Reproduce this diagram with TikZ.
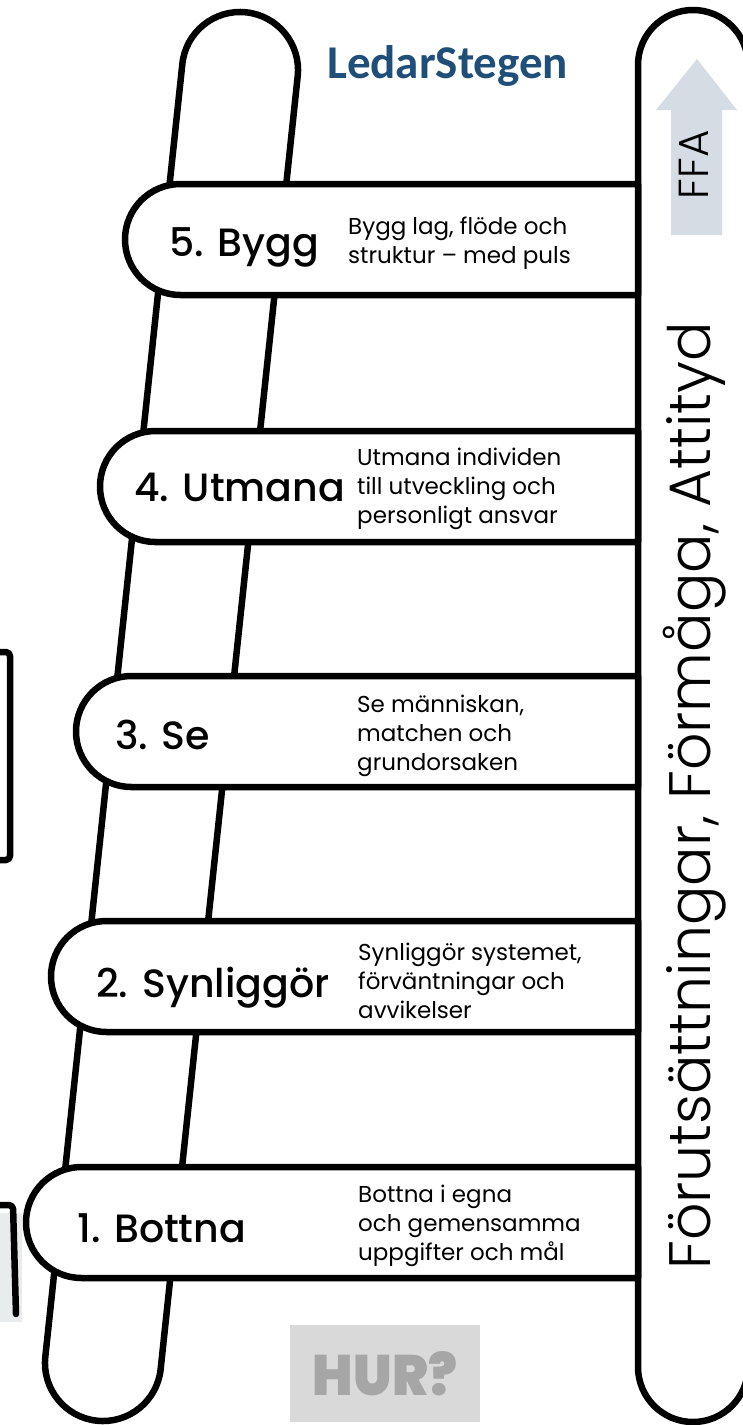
\documentclass[tikz,border=0pt]{standalone}
\usepackage{fontspec}
\setmainfont{Poppins}
\newfontfamily\titlefont{Poppins}[UprightFont={* Medium}]
\newfontfamily\thinfont{Poppins}[UprightFont={* Light}]
\newfontfamily\heavyfont{Poppins}[UprightFont={* Black}]
\newfontfamily\headfont{Carlito}

\definecolor{headblue}{HTML}{1F4E79}
\definecolor{arrowgrey}{HTML}{D6DCE4}
\definecolor{hurbox}{HTML}{D9D9D9}
\definecolor{hurtext}{HTML}{A6A6A6}
\definecolor{sidegrey}{HTML}{E8ECEC}

\begin{document}
\begin{tikzpicture}[x=1pt, y=-1pt, line join=round,
  outline/.style={draw=black, line width=6.5pt, fill=white},
  frame/.style={draw=black, line width=6.5pt, rounded corners=4pt},
  title/.style={font=\titlefont\fontsize{39.5}{40}\selectfont, inner sep=0pt, anchor=base west},
  % anchor sits on the baseline of the last line
  desc/.style={font=\fontsize{23}{29}\selectfont, inner sep=0pt, anchor=base west, align=left},
  sidetext/.style={font=\thinfont#1, rotate=90, anchor=base, inner sep=0pt},
]
\path[use as bounding box, clip] (0,0) rectangle (743,1425);

% frames cut off at the left edge
\draw[frame] (-20,652) -- (10,652) -- (10,860) -- (-20,860);
\fill[sidegrey] (-5,1213) rectangle (22,1322);
\draw[frame, line cap=round] (-20,1205) -- (13,1205) -- (16,1314);

% slanted left rail of the ladder
\draw[outline] (45.3,1356.9) arc[start angle=186.05, end angle=6.05, radius=58]
  -- (297.7,76.1) arc[start angle=6.05, end angle=-173.95, radius=58] -- cycle;

% upright right rail
\draw[outline] (638,1367) -- (638,65) arc[start angle=180, end angle=360, radius=55]
  -- (748,1367) arc[start angle=0, end angle=180, radius=55] -- cycle;

% upward arrow with FFA
\fill[arrowgrey] (671,235) -- (671,110) -- (656,110) -- (697,59) -- (737,110)
  -- (722,110) -- (722,235) -- cycle;
\node[sidetext=\fontsize{42}{42}\selectfont] (ffa) at (708,165) {FFA};
\node[sidetext=\fontsize{58.5}{60}\selectfont] (ffalong) at (710,796)
  {Förutsättningar, Förmåga, Attityd};

% rungs: left x, top y
\foreach \l/\t in {125/184, 100/431, 76/676, 51/921, 26/1167}{
  \draw[outline] (638,\t) -- ({\l+55.5},\t) arc[start angle=270, end angle=90, radius=55.5]
    -- (638,{\t+111}) -- cycle;
}

% rung titles
\node[title] (t5) at (169,256) {5. Bygg};
\node[title] (t4) at (134,501) {4. Utmana};
\node[title] (t3) at (115,749) {3. Se};
\node[title] (t2) at (96,997) {2. Synliggör};
\node[title] (t1) at (77,1242) {1. Bottna};

% rung descriptions
\node[desc] (d5) at (348,263) {Bygg lag, flöde och\\struktur – med puls};
\node[desc] (d4) at (357,523) {Utmana individen\\till utveckling och\\personligt ansvar};
\node[desc] (d3) at (357,770) {Se människan,\\matchen och\\grundorsaken};
\node[desc] (d2) at (358,1018) {Synliggör systemet,\\förväntningar och\\avvikelser};
\node[desc] (d1) at (358,1260) {Bottna i egna\\och gemensamma\\uppgifter och mål};

% heading
\node[font=\headfont\bfseries\fontsize{47}{47}\selectfont, text=headblue,
  anchor=base west, inner sep=0pt] (head) at (327,78) {LedarStegen};

% question box
\node[fill=hurbox, text=hurtext, minimum width=190pt, minimum height=97pt, inner sep=0pt]
  (hur) at (385,1373.5) {\resizebox{144pt}{44pt}{\heavyfont HUR?}};
\end{tikzpicture}
\end{document}
